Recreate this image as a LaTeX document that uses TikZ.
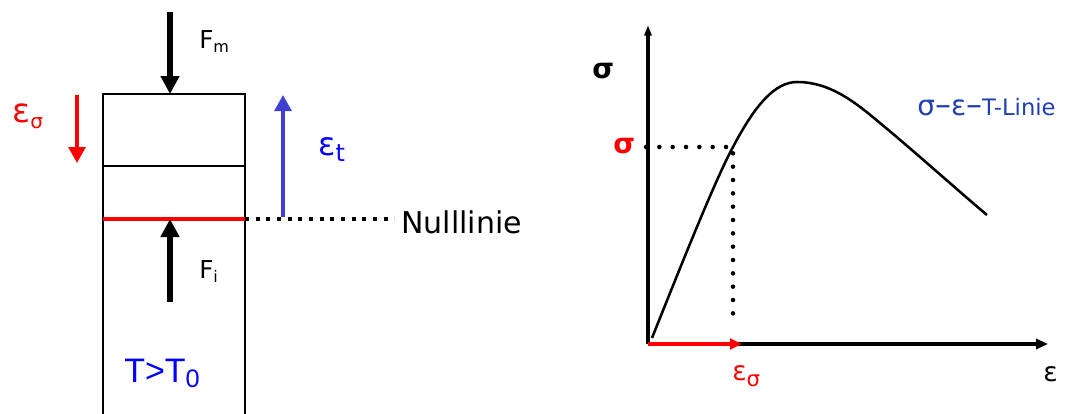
\documentclass[tikz,border=0pt]{standalone}
\usepackage{fontspec}
\setmainfont{DejaVu Sans}
\newfontfamily\arialfont{Liberation Sans}
\usetikzlibrary{arrows.meta}
\definecolor{epsblue}{RGB}{64,64,208}
\definecolor{tempblue}{RGB}{0,0,255}
\definecolor{curveblue}{RGB}{32,64,176}
\newcommand{\fs}[1]{\fontsize{#1}{#1}\selectfont}
\tikzset{
	lbl/.style={inner sep=0pt, anchor=base west},
	force/.style={line width=4.1pt, -{Triangle[length=13.5pt,width=13.5pt]}},
	strain/.style={line width=2.8pt, -{Triangle[length=12pt,width=12.5pt]}},
	axisline/.style={line width=2.3pt},
	graphdots/.style={line width=3.4pt, line cap=round, dash pattern=on 0pt off 10pt},
	nulldots/.style={line width=3pt, dash pattern=on 3pt off 5pt},
}

\begin{document}
\begin{tikzpicture}[x=0.75pt, y=-0.75pt]
			\useasboundingbox (0,0) rectangle (1065,414);
			
			% Fixed coordinates (sample)
			\coordinate (tl) at (103,94);
			\coordinate (tr) at (245,94);
			\coordinate (bl) at (103,414);
			\coordinate (br) at (245,414);
			\coordinate (ml) at (103,166);
			\coordinate (mr) at (245,166);
			\coordinate (nl) at (103,219);
			\coordinate (nr) at (245,219);
			
			% Sample
			\draw[line width=1.1pt] (bl) -- (tl) -- (tr) -- (br);
			\draw[line width=1.1pt] (ml) -- (mr);
			\draw[red, line width=2.3pt] (nl) -- (nr);
			
			% Forces
			\coordinate (fmtop) at (170,12);
			\coordinate (fmtip) at (170,94);
			\coordinate (fibot) at (170,302);
			\coordinate (fitip) at (170,219);
			\draw[force] (fmtop) -- (fmtip);
			\draw[force] (fibot) -- (fitip);
			\node[lbl] (fm) at (199,48) {\fs{18.5}F\raisebox{-3pt}{\fs{12}m}};
			\node[lbl] (fi) at (199,278) {\fs{18.5}F\raisebox{-3pt}{\fs{12}i}};
			
			% Strains
			\coordinate (esigtop) at (77,95);
			\coordinate (esigtip) at (77,163);
			\coordinate (etbot) at (283,217);
			\coordinate (ettip) at (283,95);
			\draw[strain, red] (esigtop) -- (esigtip);
			\draw[strain, epsblue] (etbot) -- (ettip);
			\node[lbl, red] (esig) at (12,122) {\fs{25}ε\raisebox{-4.5pt}{\fs{15}σ}};
			\node[lbl, tempblue] (et) at (318,155) {\fs{24}ε\raisebox{-5pt}{\fs{18}t}};
			\node[lbl, tempblue] (temp) at (124,382) {\arialfont\fs{25.5}T>T\raisebox{-3.75pt}{\fs{19}0}};
			
			% Null line
			\node[lbl] (null) at (401,233) {\fs{22.5}Nulllinie};
			\draw[nulldots] (nr) -- ([xshift=-5pt]nr -| null.west);
			
			% Diagram axes
			\coordinate (o) at (648,344);
			\coordinate (ytop) at (648,25);
			\coordinate (xend) at (1048,344);
			\coordinate (epsx) at (742,344);
			\draw[axisline, -{Triangle[length=8pt,width=5.3pt]}] (o) -- (ytop);
			\draw[axisline, -{Triangle[length=9pt,width=7.5pt]}] (o) -- (xend);
			\draw[axisline, red, -{Triangle[length=9pt,width=8pt]}] (o) -- (epsx);
			\node[lbl] (sigax) at (592,78) {\fs{21}\bfseries σ};
			\node[lbl] (epsax) at (1043,381) {\fs{20}ε};
			
			% Curve
			\coordinate (cp) at (733,147);
			\draw[line width=1.9pt] (652,338) .. controls (680,268) and (715,180) .. (cp)
				.. controls (755,105) and (775,82) .. (797,82)
				.. controls (830,82) and (855,102) .. (880,123)
				.. controls (915,152) and (955,188) .. (987,215);
			\node[lbl, curveblue] (curvelbl) at (917,115) {\fs{21}σ\fs{24}–\fs{21}ε\fs{24}–\fs{17}T-Linie};
			
			% Reading the point
			\coordinate (cpfoot) at (733,323);
			\node[lbl, red] (sigval) at (613,153) {\fs{21}\bfseries σ};
			\node[lbl, red] (epsval) at (732,380) {\fs{20}ε\raisebox{-5pt}{\fs{16}σ}};
			\draw[graphdots] ([xshift=8pt]sigval.east |- cp) -- (cp) -- (cpfoot);
		\end{tikzpicture}
\end{document}
